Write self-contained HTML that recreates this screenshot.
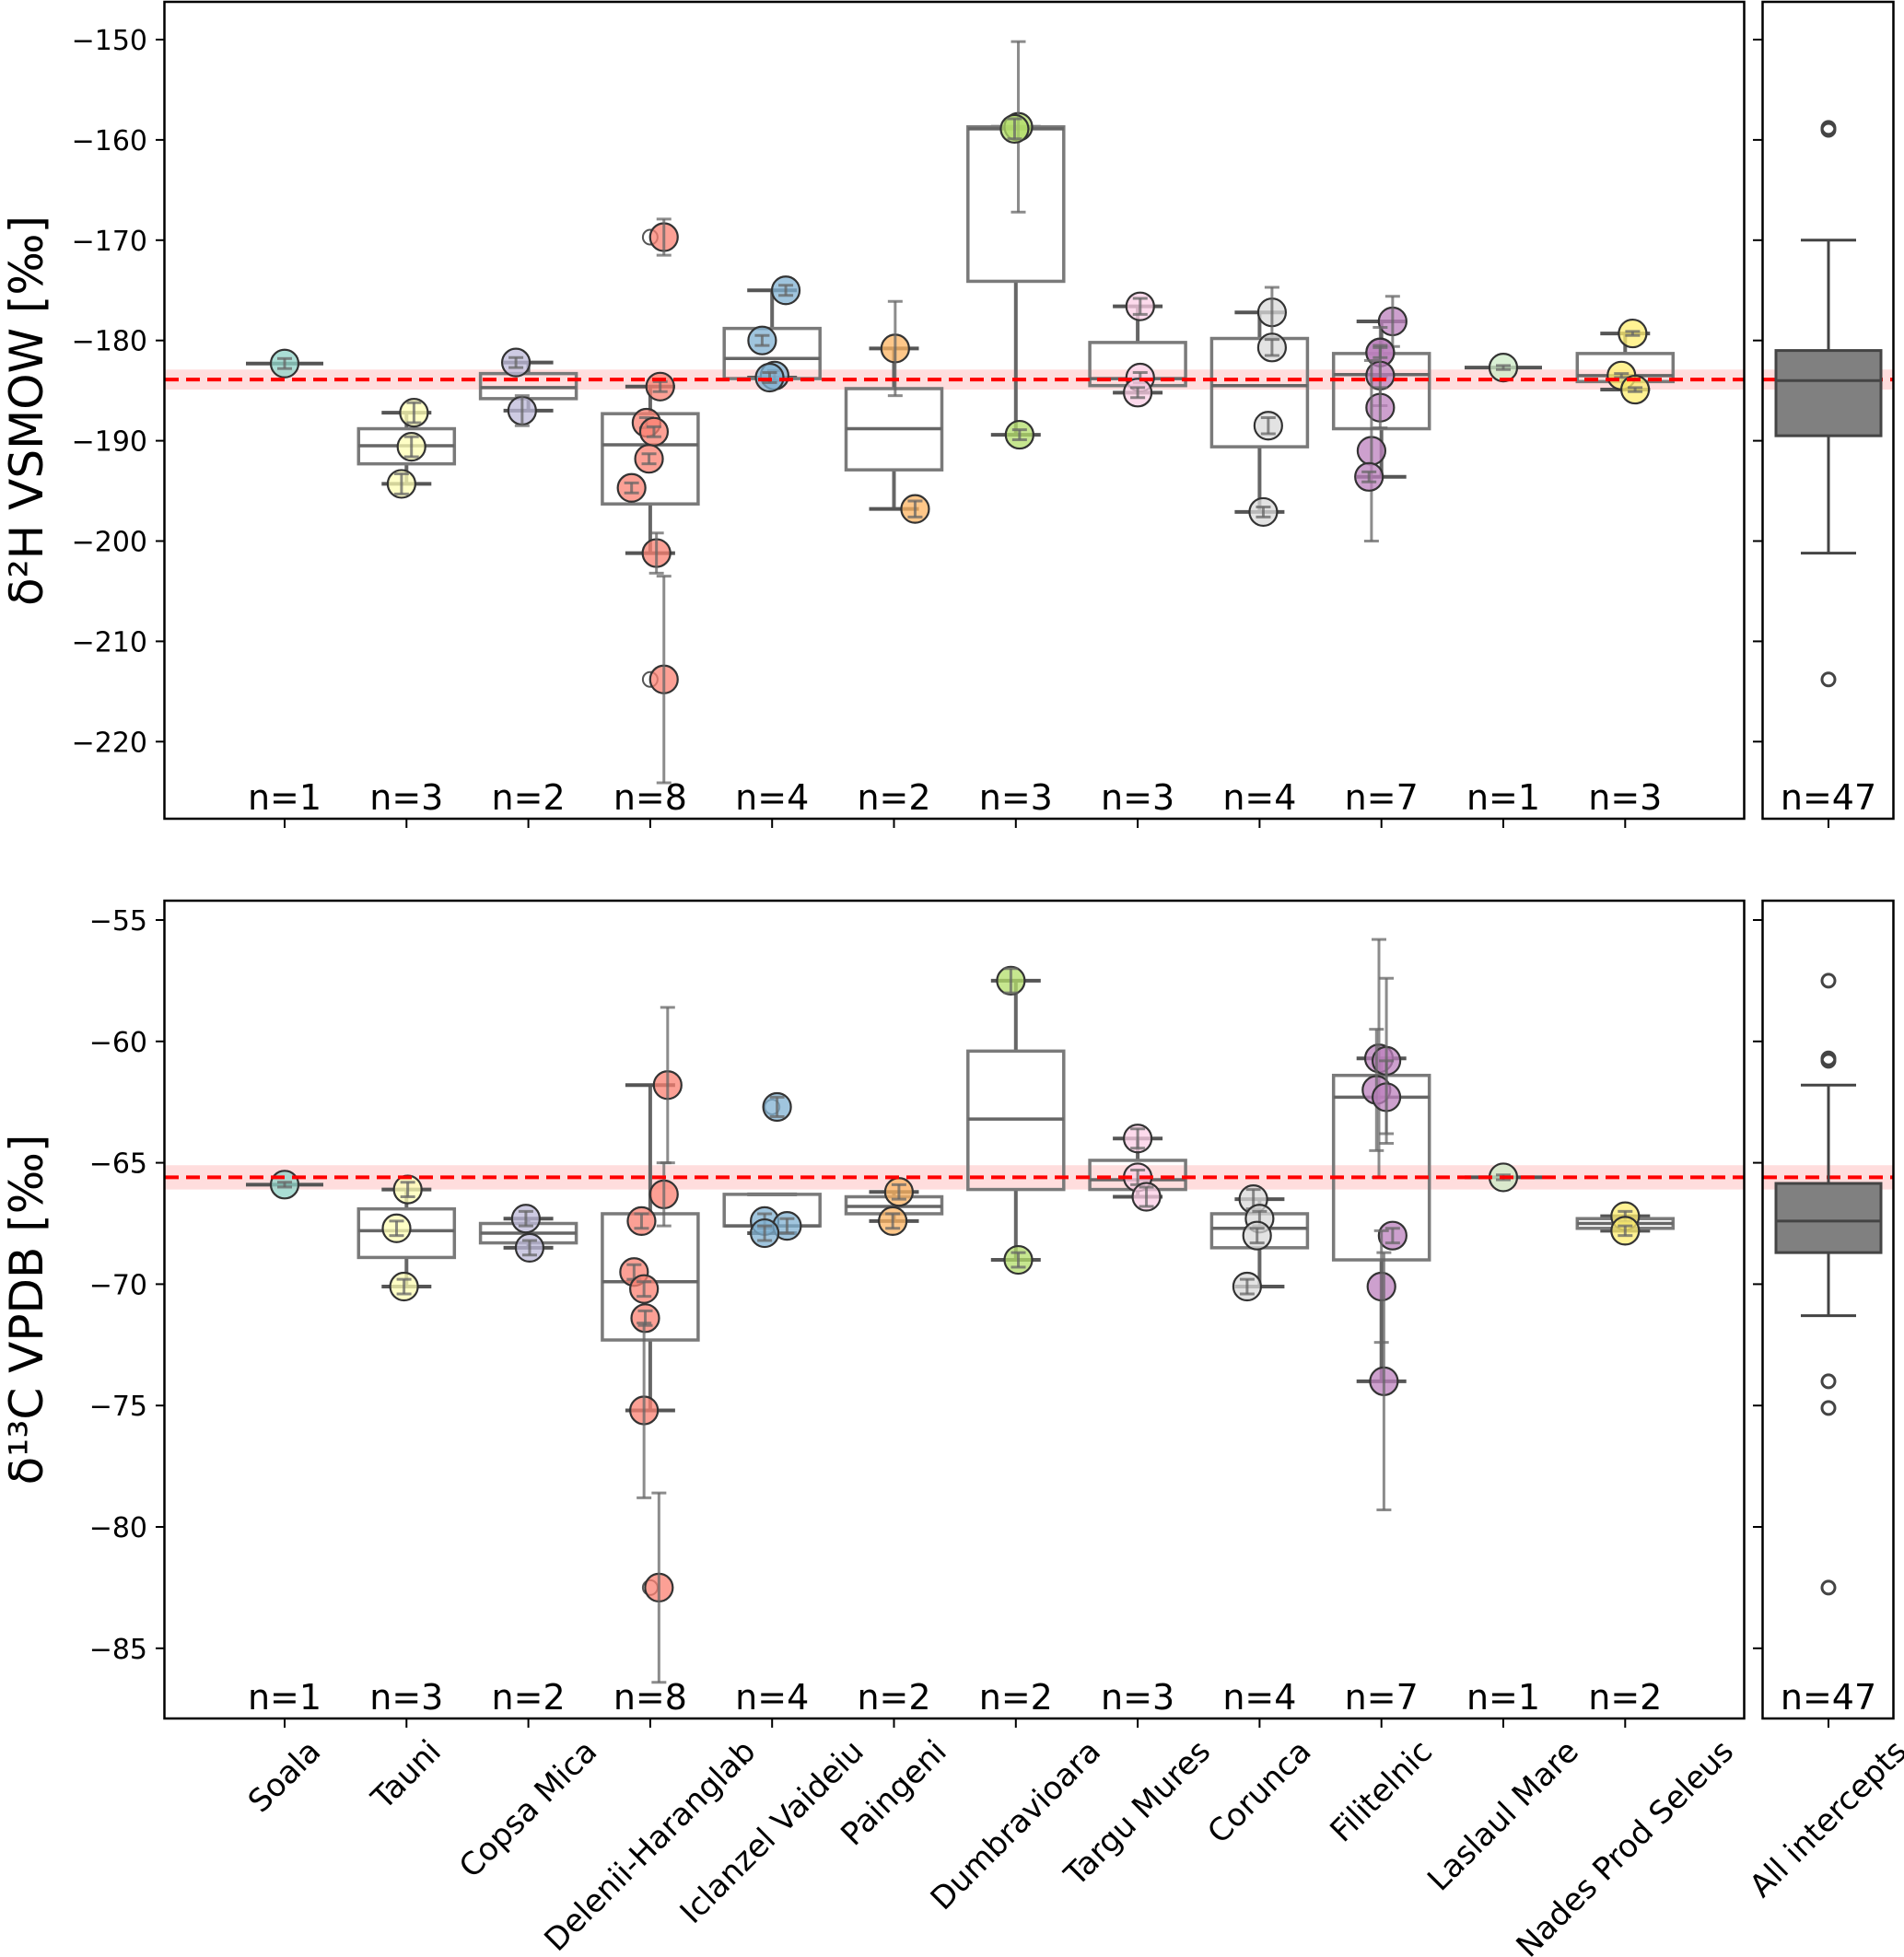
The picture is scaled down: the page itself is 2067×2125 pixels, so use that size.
<!DOCTYPE html>
<html><head><meta charset="utf-8"><style>
html,body{margin:0;padding:0;background:#fff}
svg{display:block;font-family:"DejaVu Sans","Liberation Sans",sans-serif}
</style></head><body>
<svg id="chart" width="2067" height="2125" viewBox="0 0 2067 2125" xmlns="http://www.w3.org/2000/svg"></svg>
<script>
const categories=["Soala","Tauni","Copsa Mica","Delenii-Haranglab","Iclanzel Vaideiu","Paingeni","Dumbravioara","Targu Mures","Corunca","Filitelnic","Laslaul Mare","Nades Prod Seleus"];
const colors=["#8dd3c7","#ffffb3","#bebada","#fb8072","#80b1d3","#fdb462","#b3de69","#fccde5","#d9d9d9","#bc80bd","#ccebc5","#ffed6f"];
// top panel: d2H
const hPoints=[[-182.3],[-187.2,-190.6,-194.3],[-182.2,-187],[-169.7,-184.6,-188.2,-189.1,-191.8,-194.7,-201.2,-213.8],[-175,-180,-183.5,-183.7],[-180.8,-196.8],[-158.7,-158.9,-189.4],[-176.6,-183.7,-185.2],[-177.2,-180.7,-188.5,-197.1],[-178.1,-181.2,-181.2,-183.5,-186.7,-191,-193.6],[-182.7],[-179.3,-183.5,-184.9]];
const hErr=[[0.5],[1,1,1],[0.5,1.5],[1.8,0.5,0.5,0.5,0.5,0.5,2,10.3],[0.5,0.5,0.5,0.5],[4.7,0.8],[8.5,1,0.5],[0.8,0.5,0.5],[2.5,0.8,0.8,0.5],[2.5,2.5,0.5,3,2,9,0.5],[0.2],[0.2,0.2,0.2]];
const hQ1=[-182.3,-192.3,-185.8,-196.3,-183.8,-192.9,-174.1,-184.5,-190.6,-188.8,-182.7,-184.1];
const hMed=[-182.3,-190.5,-184.7,-190.4,-181.8,-188.8,-158.9,-183.8,-184.5,-183.4,-182.7,-183.5];
const hQ3=[-182.3,-188.8,-183.3,-187.3,-178.8,-184.8,-158.7,-180.2,-179.8,-181.3,-182.7,-181.3];
const hWLo=[-182.3,-194.3,-187,-201.2,-183.7,-196.8,-189.4,-185.2,-197.1,-193.6,-182.7,-184.9];
const hWHi=[-182.3,-187.2,-182.2,-184.6,-175,-180.8,-158.7,-176.6,-177.2,-178.1,-182.7,-179.3];
const hOut=[[],[],[],[-169.7,-213.8],[],[],[],[],[],[],[],[]];
const hN=[1,3,2,8,4,2,3,3,4,7,1,3];
const hAllN=47;
const hAll={q1:-189.5,med:-184,q3:-181,lo:-201.2,hi:-170,out:[-158.8,-159,-213.8],mean:-183.9,band:1};
// bottom panel: d13C
const cPoints=[[-65.9],[-66.1,-67.7,-70.1],[-67.3,-68.5],[-61.8,-66.3,-67.4,-69.5,-70.2,-71.4,-75.2,-82.5],[-62.7,-67.4,-67.6,-67.9],[-66.2,-67.4],[-57.5,-69],[-64,-65.6,-66.4],[-66.5,-67.3,-68,-70.1],[-60.7,-60.8,-62,-62.3,-68,-70.1,-74],[-65.6],[-67.2,-67.8]];
const cErr=[[0.1],[0.3,0.3,0.3],[0.3,0.3],[3.2,1.3,0.3,0.3,0.3,0.3,3.6,3.9],[0.4,0.3,0.3,0.3],[0.3,0.3],[0.5,0.3],[0.4,0.3,0.4],[0.4,0.3,0.3,0.3],[4.9,3.4,2.5,1.5,0.3,2.3,5.3],[0.1],[0.2,0.2]];
const cQ1=[-65.9,-68.9,-68.3,-72.3,-67.6,-67.1,-66.1,-66.1,-68.5,-69,-65.6,-67.7];
const cMed=[-65.9,-67.8,-67.9,-69.9,-67.6,-66.8,-63.2,-65.7,-67.7,-62.3,-65.6,-67.5];
const cQ3=[-65.9,-66.9,-67.5,-67.1,-66.3,-66.4,-60.4,-64.9,-67.1,-61.4,-65.6,-67.3];
const cWLo=[-65.9,-70.1,-68.5,-75.2,-67.9,-67.4,-69,-66.4,-70.1,-74,-65.6,-67.8];
const cWHi=[-65.9,-66.1,-67.3,-61.8,-66.3,-66.2,-57.5,-64,-66.5,-60.7,-65.6,-67.2];
const cOut=[[],[],[],[-82.5],[-62.7],[],[],[],[],[],[],[]];
const cN=[1,3,2,8,4,2,2,3,4,7,1,2];
const cAllN=47;
const cAll={q1:-68.7,med:-67.4,q3:-65.85,lo:-71.3,hi:-61.8,out:[-57.5,-60.7,-60.8,-74,-75.1,-82.5],mean:-65.6,band:0.5};
const hTicks=[-150,-160,-170,-180,-190,-200,-210,-220];
const cTicks=[-55,-60,-65,-70,-75,-80,-85];
const jitter=[[0],[6,4,-4],[-10,-5],[11,8,-3,3,-1,-15,5,11],[11,-8,2,-2],[1,17],[2,-1,3],[2,2,0],[10,10,7,3],[9,-1,-1,-1,-1,-8,-10],[0],[6,-3,8]];
const jitterC=[[0],[1,-8,-2],[-2,1],[14,11,-7,-13,-5,-4,-5,7],[4,-6,12,-6],[4,-1],[-4,2],[0,0,7],[-5,0,-2,-10],[-2,4,-4,4,9,0,2],[0],[0,0]];

const NS="http://www.w3.org/2000/svg";
const svg=document.getElementById("chart");
function mk(tag,attrs,parent){const e=document.createElementNS(NS,tag);for(const k in attrs)e.setAttribute(k,attrs[k]);(parent||svg).appendChild(e);return e;}
const xPos=i=>309+i*132.3;
const xAll=1985;
function yTop(v){return 43+(-150-v)*10.89;}
function yBot(v){return 999+(-55-v)*26.36;}

function panel(cfg){
  const {y,top,bot,pts,err,q1,med,q3,wlo,whi,out,ns,allN,all,ticks,jit,prefix}=cfg;
  const g=mk("g",{});
  
  
  const bd=mk("rect",{x:179,y:y(all.mean+all.band),width:1714,height:y(all.mean-all.band)-y(all.mean+all.band),fill:"#ffd5d5",opacity:0.8},g);
  
  
  const bd2=mk("rect",{x:1914,y:y(all.mean+all.band),width:141,height:y(all.mean-all.band)-y(all.mean+all.band),fill:"#ffd5d5",opacity:0.8},g);
  
  
  for(let i=0;i<categories.length;i++){
    const cx=xPos(i);
    const bg=mk("g",{},g);
    
    
    if(pts[i].length===1){
      mk("line",{x1:cx-42,x2:cx+42,y1:y(med[i]),y2:y(med[i]),stroke:"#555",'stroke-width':4},bg);
    } else {
      const w=104;
      mk("line",{x1:cx,x2:cx,y1:y(whi[i]),y2:y(q3[i]),stroke:"#666",'stroke-width':4},bg);
      mk("line",{x1:cx,x2:cx,y1:y(q1[i]),y2:y(wlo[i]),stroke:"#666",'stroke-width':4},bg);
      mk("line",{x1:cx-27,x2:cx+27,y1:y(whi[i]),y2:y(whi[i]),stroke:"#555",'stroke-width':4},bg);
      mk("line",{x1:cx-27,x2:cx+27,y1:y(wlo[i]),y2:y(wlo[i]),stroke:"#555",'stroke-width':4},bg);
      mk("rect",{x:cx-w/2,y:y(q3[i]),width:w,height:Math.max(1,y(q1[i])-y(q3[i])),fill:"none",stroke:"#7a7a7a",'stroke-width':3.5},bg);
      mk("line",{x1:cx-w/2,x2:cx+w/2,y1:y(med[i]),y2:y(med[i]),stroke:"#666",'stroke-width':3.5},bg);
      out[i].forEach(o=>{mk("circle",{cx:cx,cy:y(o),r:8,fill:"none",stroke:"#555",'stroke-width':2},bg);});
    }
    pts[i].forEach((v,k)=>{
      const px=cx+jit[i][k]*1.35;
      const e=err[i][k];
      const pg=mk("g",{},g);
      
      
      mk("circle",{cx:px,cy:y(v),r:15,fill:colors[i],'fill-opacity':0.75,stroke:"#333",'stroke-width':2.2},pg);
      mk("line",{x1:px,x2:px,y1:y(v+e),y2:y(v-e),stroke:"#666",'stroke-opacity':0.75,'stroke-width':3},pg);
      mk("line",{x1:px-8,x2:px+8,y1:y(v+e),y2:y(v+e),stroke:"#666",'stroke-opacity':0.75,'stroke-width':3},pg);
      mk("line",{x1:px-8,x2:px+8,y1:y(v-e),y2:y(v-e),stroke:"#666",'stroke-opacity':0.75,'stroke-width':3},pg);
    });
    const nt=mk("text",{x:cx,y:bot-10,'text-anchor':'middle','font-size':38,fill:"#000"},g);
    nt.textContent="n="+ns[i];
    
    
    const tk=mk("line",{x1:cx,x2:cx,y1:bot,y2:bot+10,stroke:"#000",'stroke-width':2},g);
    
    
  }
  const ml=mk("line",{x1:179,x2:1893,y1:y(all.mean),y2:y(all.mean),stroke:"#ff0000",'stroke-width':4,'stroke-dasharray':'15 8'},g);
  
  
  const ml2=mk("line",{x1:1914,x2:2055,y1:y(all.mean),y2:y(all.mean),stroke:"#ff0000",'stroke-width':4,'stroke-dasharray':'15 8'},g);
  
  
  const ag=mk("g",{},g);
  
  
  mk("line",{x1:xAll,x2:xAll,y1:y(all.hi),y2:y(all.q3),stroke:"#444",'stroke-width':3},ag);
  mk("line",{x1:xAll,x2:xAll,y1:y(all.q1),y2:y(all.lo),stroke:"#444",'stroke-width':3},ag);
  mk("line",{x1:xAll-30,x2:xAll+30,y1:y(all.hi),y2:y(all.hi),stroke:"#444",'stroke-width':3},ag);
  mk("line",{x1:xAll-30,x2:xAll+30,y1:y(all.lo),y2:y(all.lo),stroke:"#444",'stroke-width':3},ag);
  mk("rect",{x:xAll-57,y:y(all.q3),width:114,height:y(all.q1)-y(all.q3),fill:"#808080",stroke:"#444",'stroke-width':3},ag);
  mk("line",{x1:xAll-57,x2:xAll+57,y1:y(all.med),y2:y(all.med),stroke:"#444",'stroke-width':3},ag);
  all.out.forEach(o=>{mk("circle",{cx:xAll,cy:y(o),r:7,fill:"none",stroke:"#444",'stroke-width':3},ag);});
  const na=mk("text",{x:xAll,y:bot-10,'text-anchor':'middle','font-size':38},g);
  na.textContent="n="+allN;
  
  
  mk("line",{x1:xAll,x2:xAll,y1:bot,y2:bot+10,stroke:"#000",'stroke-width':2},g);
  ticks.forEach(t=>{
    mk("line",{x1:169,x2:179,y1:y(t),y2:y(t),stroke:"#000",'stroke-width':2},g);
    mk("line",{x1:1903,x2:1913,y1:y(t),y2:y(t),stroke:"#000",'stroke-width':2},g);
    const tl=mk("text",{x:160,y:y(t)+11,'text-anchor':'end','font-size':30},g);
    tl.textContent="\u2212"+Math.abs(t);
    
    
  });
  const f1=mk("rect",{x:178.5,y:top,width:1715,height:bot-top,fill:"none",stroke:"#000",'stroke-width':2.5},g);
  
  
  const f2=mk("rect",{x:1913.5,y:top,width:142,height:bot-top,fill:"none",stroke:"#000",'stroke-width':2.5},g);
  
  
}
panel({y:yTop,top:2,bot:889,pts:hPoints,err:hErr,q1:hQ1,med:hMed,q3:hQ3,wlo:hWLo,whi:hWHi,out:hOut,ns:hN,allN:hAllN,all:hAll,ticks:hTicks,jit:jitter,prefix:'d2h'});
panel({y:yBot,top:978,bot:1866,pts:cPoints,err:cErr,q1:cQ1,med:cMed,q3:cQ3,wlo:cWLo,whi:cWHi,out:cOut,ns:cN,allN:cAllN,all:cAll,ticks:cTicks,jit:jitterC,prefix:'d13c'});

const t1=mk("text",{x:0,y:0,'text-anchor':'middle','font-size':50,transform:'translate(46,446) rotate(-90)'});
t1.innerHTML='δ²H VSMOW [‰]';


const t2=mk("text",{x:0,y:0,'text-anchor':'middle','font-size':50,transform:'translate(46,1422) rotate(-90)'});
t2.innerHTML='δ¹³C VPDB [‰]';


categories.concat(["All intercepts"]).forEach((c,i)=>{
  const x=i<categories.length?xPos(i):xAll;
  const t=mk("text",{x:0,y:0,'text-anchor':'middle','dominant-baseline':'central','font-size':34});
  t.textContent=c;
  
  
  const w=t.getComputedTextLength();
  const h=34;
  const cy=1884+(w+h)/(2*Math.SQRT2);
  t.setAttribute('transform',`translate(${x},${cy}) rotate(-45)`);
});
</script>
</body></html>
